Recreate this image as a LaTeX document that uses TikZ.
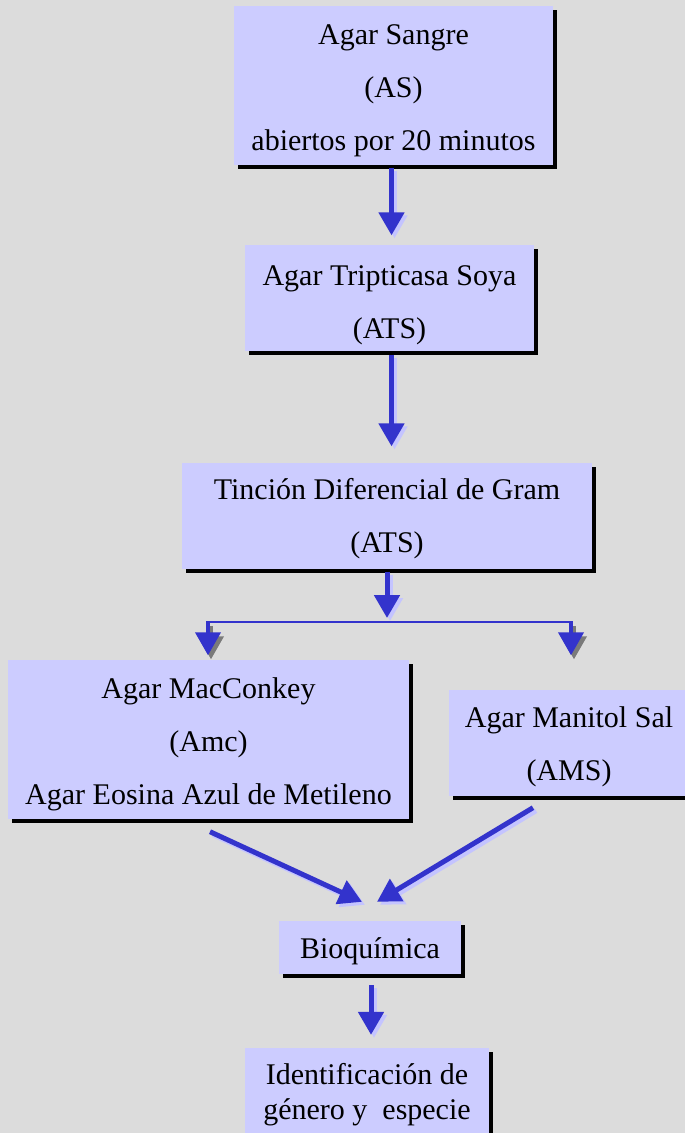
\documentclass[tikz,border=0pt]{standalone}
\usepackage{fontspec}
\setmainfont{Liberation Serif}
\usetikzlibrary{arrows.meta,shadows,calc}
\definecolor{bg}{HTML}{DCDCDC}
\definecolor{boxfill}{HTML}{CCCCFF}
\definecolor{arrowblue}{HTML}{3333CC}
\definecolor{arrowshade}{HTML}{C4C4FF}
\definecolor{grayshade}{HTML}{7A7A7A}
\newcommand\lowtext[2]{\raisebox{-#1}[\height][\depth]{\begin{tabular}{@{}c@{}}#2\end{tabular}}}
\begin{document}
\begin{tikzpicture}[x=1pt,y=1pt,
  flowbox/.style={fill=boxfill, draw=none, inner sep=0pt, align=center,
    font=\fontsize{30}{53}\selectfont,
    drop shadow={shadow xshift=4pt, shadow yshift=-4pt, fill=black, opacity=1}},
  flowarrow/.style={draw=arrowblue, line width=5pt, -{Triangle[width=25pt,length=23pt]}},
  lavshadow/.style={draw=arrowshade, line width=5pt, -{Triangle[width=25pt,length=23pt]},
    transform canvas={xshift=3pt,yshift=-3pt}},
  grayshadow/.style={draw=grayshade, line width=4pt, -{Triangle[width=25pt,length=23pt]},
    transform canvas={xshift=3pt,yshift=-4pt}},
  brancharrow/.style={draw=arrowblue, line width=4pt, -{Triangle[width=25pt,length=23pt]}},
  branchline/.style={draw=arrowblue, line width=2.5pt}
]
\useasboundingbox (0,0) rectangle (685,-1133);
\fill[bg] (0,0) rectangle (685,-1133);
\clip (0,0) rectangle (685,-1133);

% boxes
\node[flowbox, minimum width=319pt, minimum height=154pt] (as) at (393.5,-85)
  {\lowtext{2pt}{Agar Sangre\\(AS)\\abiertos por 20 minutos}};
\node[flowbox, minimum width=289pt, minimum height=101pt] (ats) at (389.5,-297.5)
  {\lowtext{3.5pt}{Agar Tripticasa Soya\\(ATS)}};
\node[flowbox, minimum width=410pt, minimum height=103pt] (tin) at (387,-515.5)
  {\lowtext{0pt}{Tinción Diferencial de Gram\\(ATS)}};
\node[flowbox, minimum width=401pt, minimum height=154pt] (mac) at (208.5,-739)
  {\lowtext{1.5pt}{Agar MacConkey\\(Amc)\\Agar Eosina Azul de Metileno}};
\node[flowbox, minimum width=240pt, minimum height=101pt] (man) at (569,-742.5)
  {\lowtext{1pt}{Agar Manitol Sal\\(AMS)}};
\node[flowbox, minimum width=182pt, minimum height=49pt] (bio) at (370,-947.5)
  {\lowtext{0.5pt}{Bioquímica}};
\node[flowbox, font=\fontsize{30}{35}\selectfont, minimum width=244pt, minimum height=89pt] (idg) at (367,-1092.5)
  {\lowtext{2pt}{Identificación de\\género y\ \ especie}};

% coordinates for the split
\coordinate (split) at (387,-622);
\coordinate (bl) at (208,-622);
\coordinate (br) at (571,-622);

% arrow 1
\draw[lavshadow] ($(as.south)+(-2,-3)$) -- ($(ats.north)+(2,9)$);
\draw[flowarrow] ($(as.south)+(-2,-3)$) -- ($(ats.north)+(2,9)$);
% arrow 2
\draw[lavshadow] ($(ats.south)+(2,-4)$) -- ($(tin.north)+(4.5,16)$);
\draw[flowarrow] ($(ats.south)+(2,-4)$) -- ($(tin.north)+(4.5,16)$);
% arrow 3
\draw[lavshadow, shorten >=4pt] ($(tin.south)+(0,-3)$) -- (split);
\draw[flowarrow, shorten >=4pt] ($(tin.south)+(0,-3)$) -- (split);
% branch line
\draw[branchline] ($(bl)+(-2,0)$) -- ($(br)+(2,0)$);
% branch arrows
\draw[grayshadow, shorten >=4pt] (bl) -- (bl |- mac.north);
\draw[brancharrow, shorten >=4pt] (bl) -- (bl |- mac.north);
\draw[grayshadow, shorten >=4pt] (br) -- (br |- mac.north);
\draw[brancharrow, shorten >=4pt] (br) -- (br |- mac.north);
% diagonal arrows
\draw[lavshadow] ($(mac.south)+(1.5,-13)$) -- ($(bio.north)+(-8,19)$);
\draw[flowarrow] ($(mac.south)+(1.5,-13)$) -- ($(bio.north)+(-8,19)$);
\draw[lavshadow] ($(man.south)+(-36,-12)$) -- ($(bio.north)+(7,19)$);
\draw[flowarrow] ($(man.south)+(-36,-12)$) -- ($(bio.north)+(7,19)$);
% arrow to identification
\draw[lavshadow] ($(bio.south)+(1,-11)$) -- ($(idg.north)+(4,13)$);
\draw[flowarrow] ($(bio.south)+(1,-11)$) -- ($(idg.north)+(4,13)$);
\end{tikzpicture}
\end{document}
